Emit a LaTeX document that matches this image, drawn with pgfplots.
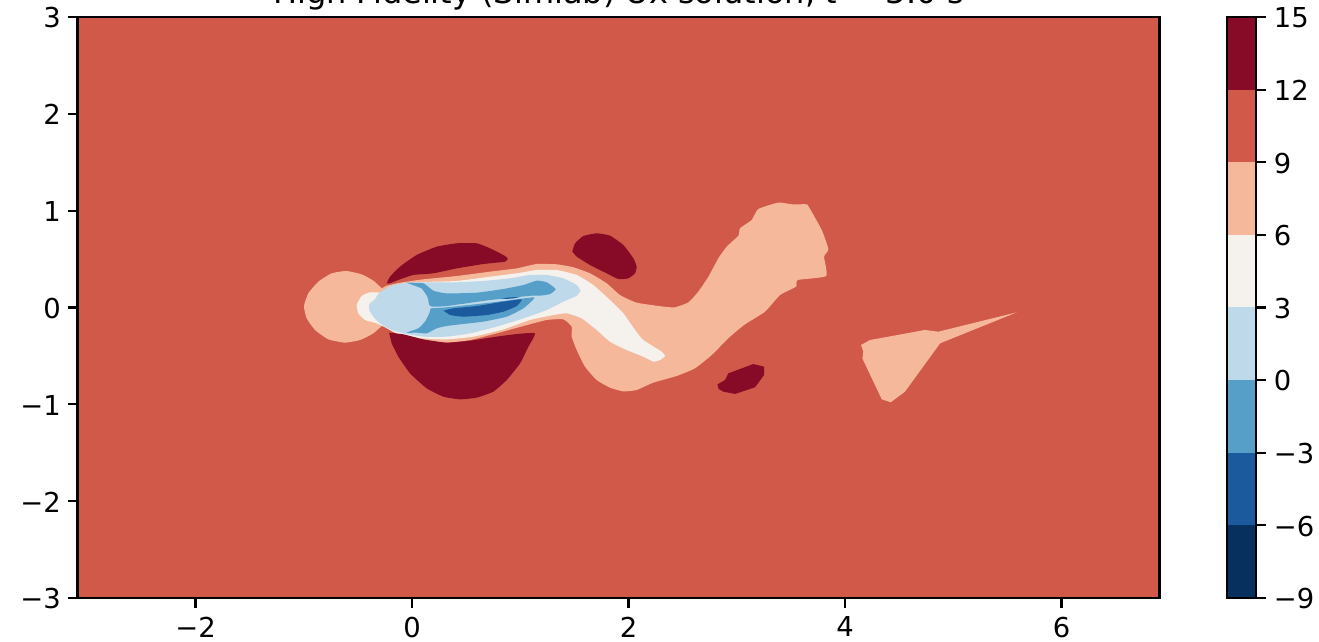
\documentclass[border=0pt]{standalone}
\usepackage{fontspec}
\setmainfont{DejaVu Sans}
\usepackage{pgfplots}
\pgfplotsset{compat=1.18}
% RdBu_r bands, -9 to 15 in steps of 3
\definecolor{bandA}{HTML}{07305E}
\definecolor{bandB}{HTML}{1B5A9C}
\definecolor{bandC}{HTML}{569FC9}
\definecolor{bandD}{HTML}{BDD9EA}
\definecolor{bandE}{HTML}{F5F1ED}
\definecolor{bandF}{HTML}{F6B89B}
\definecolor{bandG}{HTML}{D1594A}
\definecolor{bandH}{HTML}{870A26}
\pgfplotsset{
    band/.style={fill=#1, draw=none, forget plot},
    curved/.style={band=#1, smooth, tension=0.3},
    myaxis/.style={
        scale only axis,
        axis on top,
        height=290.5pt,
        axis line style={line width=1.05pt, black},
        major tick length=4.85pt,
        every tick/.style={line width=1.05pt, black},
        tick align=outside,
        tick label style={font=\fontsize{13.7}{16}\selectfont},
        xticklabel style={yshift=-1pt},
        yticklabel style={yshift=-0.4pt},
    }
}

\begin{document}
\begin{tikzpicture}
\useasboundingbox (0,0) rectangle (659.5pt,321pt);
\begin{axis}[
    myaxis,
    at={(38.75pt,22pt)}, anchor=south west,
    width=541pt,
    xmin=-3.09, xmax=6.905,
    ymin=-3, ymax=3,
    xtick={-2,0,2,4,6},
    xticklabels={−2,0,2,4,6},
    ytick={-3,-2,-1,0,1,2,3},
    yticklabels={−3,−2,−1,0,1,2,3},
    xtick pos=bottom,
    ytick pos=left,
    title={High Fidelity (Simlab) Ux solution, \textit{t} = 3.0 s},
    title style={anchor=base, yshift=0.5pt, inner sep=0pt, font=\fontsize{16}{20}\selectfont},
]
% background band
\addplot[band=bandG] coordinates {(-3.09,-3) (6.905,-3) (6.905,3) (-3.09,3)} --cycle;
% 6..9, round the cylinder and down the wake
\addplot[curved=bandF] coordinates {
    (-0.280,0.198) (-0.357,0.277) (-0.465,0.342) (-0.604,0.377) (-0.742,0.353)
    (-0.865,0.267) (-0.958,0.146) (-0.998,0.015) (-0.973,-0.112) (-0.896,-0.232)
    (-0.773,-0.329) (-0.619,-0.363) (-0.480,-0.336) (-0.357,-0.267) (-0.265,-0.181)
    (-0.203,-0.232) (-0.080,-0.284) (0.105,-0.336) (0.320,-0.363) (0.536,-0.336)
    (0.782,-0.267) (1.029,-0.191) (1.244,-0.129) (1.398,-0.122) (1.475,-0.198)
    (1.475,-0.301) (1.521,-0.439) (1.598,-0.611) (1.706,-0.749) (1.829,-0.828)
    (1.952,-0.866) (2.075,-0.852) (2.229,-0.776) (2.445,-0.707) (2.614,-0.628)
    (2.768,-0.491) (2.938,-0.301) (3.076,-0.174) (3.261,-0.043) (3.400,0.129)
    (3.547,0.215) (3.563,0.284) (3.825,0.325) (3.806,0.525) (3.846,0.601)
    (3.785,0.800) (3.661,1.048) (3.640,1.066) (3.507,1.066) (3.384,1.083)
    (3.199,1.017) (3.138,0.904) (3.030,0.818) (3.015,0.742) (2.907,0.628)
    (2.830,0.508) (2.738,0.318) (2.645,0.164) (2.553,0.053) (2.430,0.002)
    (2.322,0.009) (2.075,0.050) (1.921,0.129) (1.798,0.250) (1.644,0.353)
    (1.490,0.415) (1.336,0.446) (1.152,0.449) (0.967,0.404) (0.721,0.370)
    (0.413,0.325) (0.105,0.291) (-0.111,0.256) (-0.234,0.225)
} --cycle;
% 6..9, patch on the right
\addplot[band=bandF] coordinates {
    (4.148,-0.387) (4.231,-0.336) (4.739,-0.232) (4.862,-0.250) (5.586,-0.050)
    (4.878,-0.370) (4.554,-0.869) (4.422,-0.979) (4.339,-0.948) (4.160,-0.525)
    (4.169,-0.456)
} --cycle;
% 3..6
\addplot[curved=bandE] coordinates {
    (-0.296,0.153) (-0.388,0.157) (-0.465,0.119) (-0.511,0.026) (-0.496,-0.060)
    (-0.434,-0.129) (-0.326,-0.164) (-0.249,-0.205) (-0.111,-0.284) (0.105,-0.319)
    (0.320,-0.329) (0.567,-0.301) (0.844,-0.226) (1.090,-0.129) (1.306,-0.078)
    (1.429,-0.060) (1.567,-0.112) (1.706,-0.232) (1.829,-0.353) (1.983,-0.439)
    (2.137,-0.508) (2.229,-0.559) (2.291,-0.542) (2.337,-0.501) (2.306,-0.456)
    (2.137,-0.336) (2.060,-0.232) (1.952,-0.060) (1.829,0.077) (1.675,0.232)
    (1.521,0.336) (1.336,0.387) (1.152,0.387) (0.967,0.353) (0.721,0.318)
    (0.413,0.274) (0.105,0.263) (-0.080,0.250) (-0.203,0.215)
} --cycle;
% 0..3
\addplot[curved=bandD] coordinates {
    (1.558,0.170) (1.521,0.232) (1.398,0.301) (1.244,0.336) (1.090,0.336)
    (0.905,0.301) (0.659,0.274) (0.413,0.260) (0.166,0.260) (-0.049,0.256)
    (-0.172,0.232) (-0.265,0.181) (-0.320,0.129) (-0.342,0.084) (-0.394,0.036)
    (-0.394,-0.026) (-0.357,-0.095) (-0.296,-0.164) (-0.203,-0.226) (-0.080,-0.267)
    (0.105,-0.301) (0.320,-0.301) (0.536,-0.267) (0.782,-0.198) (1.029,-0.112)
    (1.244,-0.026) (1.398,0.060) (1.521,0.119)
} --cycle;
% -3..0, upper and lower arm
\addplot[curved=bandC] coordinates {
    (-0.049,0.256) (0.105,0.250) (0.197,0.174) (0.320,0.146) (0.597,0.153)
    (0.844,0.191) (1.029,0.232) (1.152,0.277) (1.244,0.260) (1.327,0.191)
    (1.275,0.139) (1.182,0.122) (1.105,0.122) (0.721,0.077) (0.320,0.015)
    (0.191,0.008) (0.160,0.026) (0.142,0.112) (0.089,0.198)
} --cycle;
\addplot[curved=bandC] coordinates {
    (0.172,-0.009) (0.320,0.002) (0.721,0.050) (1.115,0.105) (1.115,0.077)
    (1.029,-0.009) (0.875,-0.095) (0.659,-0.146) (0.474,-0.170) (0.320,-0.191)
    (0.228,-0.215) (0.136,-0.267) (0.043,-0.260) (-0.049,-0.260) (0.059,-0.215)
    (0.120,-0.146) (0.160,-0.060)
} --cycle;
% -6..-3
\addplot[curved=bandB] coordinates {
    (0.290,-0.033) (0.382,-0.009) (0.597,0.015) (0.844,0.060) (1.013,0.084)
    (0.967,0.015) (0.844,-0.043) (0.690,-0.078) (0.474,-0.095) (0.351,-0.078)
} --cycle;
\addplot[band=bandB] coordinates {(0.813,0.088) (0.905,0.105) (0.998,0.108) (0.921,0.091)} --cycle;
% 12..15
\addplot[curved=bandH] coordinates {
    (-0.234,0.250) (-0.203,0.318) (-0.111,0.422) (0.043,0.542) (0.228,0.628)
    (0.413,0.663) (0.597,0.663) (0.721,0.611) (0.844,0.542) (0.884,0.508)
    (0.859,0.473) (0.659,0.449) (0.413,0.404) (0.197,0.353) (0.012,0.336)
    (-0.111,0.291) (-0.203,0.250)
} --cycle;
\addplot[curved=bandH] coordinates {
    (-0.212,-0.260) (-0.080,-0.277) (0.105,-0.329) (0.320,-0.363) (0.536,-0.343)
    (0.782,-0.301) (0.967,-0.274) (1.136,-0.267) (1.075,-0.405) (0.998,-0.577)
    (0.875,-0.749) (0.751,-0.869) (0.597,-0.931) (0.443,-0.948) (0.290,-0.921)
    (0.136,-0.835) (-0.018,-0.680) (-0.126,-0.508) (-0.188,-0.370)
} --cycle;
\addplot[curved=bandH] coordinates {
    (1.481,0.577) (1.506,0.663) (1.583,0.738) (1.706,0.766) (1.829,0.742)
    (1.952,0.645) (2.045,0.508) (2.075,0.422) (2.060,0.353) (1.998,0.301)
    (1.906,0.294) (1.798,0.353) (1.644,0.439) (1.521,0.525)
} --cycle;
\addplot[band=bandH] coordinates {
    (2.821,-0.794) (2.892,-0.749) (2.922,-0.680) (3.153,-0.584) (3.252,-0.611)
    (3.252,-0.697) (3.169,-0.824) (2.984,-0.893) (2.876,-0.869) (2.833,-0.842)
} --cycle;
\end{axis}
% colorbar
\begin{axis}[
    myaxis,
    at={(613.5pt,22pt)}, anchor=south west,
    width=14.6pt,
    xmin=0, xmax=1,
    ymin=-9, ymax=15,
    xtick=\empty,
    ytick={-9,-6,-3,0,3,6,9,12,15},
    yticklabels={−9,−6,−3,0,3,6,9,12,15},
    ytick pos=right,
    yticklabel pos=right,
    yticklabel style={xshift=0.5pt},
]
\addplot[band=bandA] coordinates {(0,-9) (1,-9) (1,-6) (0,-6)} --cycle;
\addplot[band=bandB] coordinates {(0,-6) (1,-6) (1,-3) (0,-3)} --cycle;
\addplot[band=bandC] coordinates {(0,-3) (1,-3) (1,0) (0,0)} --cycle;
\addplot[band=bandD] coordinates {(0,0) (1,0) (1,3) (0,3)} --cycle;
\addplot[band=bandE] coordinates {(0,3) (1,3) (1,6) (0,6)} --cycle;
\addplot[band=bandF] coordinates {(0,6) (1,6) (1,9) (0,9)} --cycle;
\addplot[band=bandG] coordinates {(0,9) (1,9) (1,12) (0,12)} --cycle;
\addplot[band=bandH] coordinates {(0,12) (1,12) (1,15) (0,15)} --cycle;
\end{axis}
\end{tikzpicture}
\end{document}
